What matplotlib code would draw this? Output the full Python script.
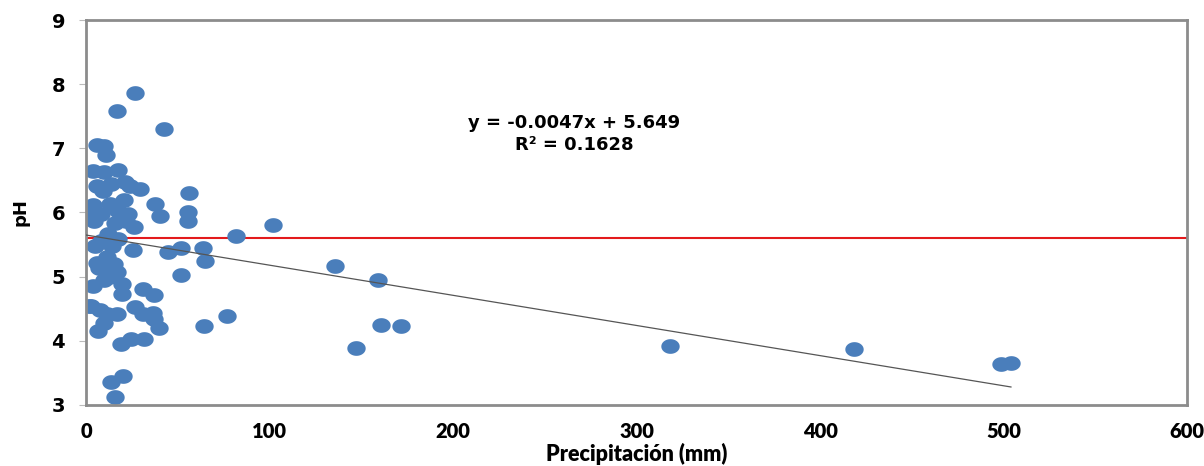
import numpy as np
import matplotlib.pyplot as plt
from matplotlib.path import Path

# precipitation (mm) and pH
precip = [26.7, 16.9, 42.5, 6.0, 9.8, 10.9, 3.8, 9.8, 17.4, 21.3,
          29.4, 56.1, 6.0, 9.3, 13.6, 24.0, 37.6, 3.8, 13.1, 20.7,
          40.3, 55.6, 55.6, 3.3, 8.2, 17.4, 22.9, 4.4, 15.8, 21.8,
          26.2, 101.9, 81.7, 12.0, 17.4, 8.2, 4.9, 25.6, 51.8, 44.7,
          63.8, 64.9, 135.7, 159.1, 51.8, 11.4, 15.3, 7.1, 11.4, 16.9,
          9.8, 3.8, 19.6, 19.6, 31.1, 37.1, 2.7, 7.6, 11.4, 16.9,
          9.8, 6.5, 26.7, 31.1, 36.5, 37.1, 39.8, 64.3, 76.8, 160.8,
          171.7, 147.1, 19.1, 24.5, 31.6, 318.3, 418.5, 498.6, 504.0, 20.2,
          13.6, 15.8, 6.0, 14.2, 1.5, 12.5]
ph = [7.86, 7.58, 7.30, 7.05, 7.03, 6.89, 6.64, 6.63, 6.67, 6.47,
      6.36, 6.31, 6.42, 6.34, 6.45, 6.42, 6.14, 6.11, 6.14, 6.19,
      5.95, 6.00, 5.86, 5.98, 5.97, 6.03, 5.98, 5.87, 5.84, 5.86,
      5.77, 5.81, 5.64, 5.67, 5.59, 5.55, 5.47, 5.42, 5.44, 5.38,
      5.44, 5.25, 5.17, 4.95, 5.02, 5.30, 5.19, 5.13, 5.08, 5.08,
      4.94, 4.86, 4.89, 4.73, 4.80, 4.72, 4.55, 4.48, 4.41, 4.41,
      4.27, 4.16, 4.53, 4.42, 4.44, 4.34, 4.20, 4.23, 4.38, 4.25,
      4.23, 3.89, 3.95, 4.03, 4.03, 3.92, 3.87, 3.64, 3.66, 3.45,
      3.36, 3.13, 5.22, 5.47, 4.55, 5.00]

slope, intercept = -0.0047, 5.649
limit_ph = 5.6

fig = plt.figure(figsize=(12.04, 4.66), dpi=100)
ax = fig.add_axes([0.0714, 0.131, 0.9146, 0.826])

t = np.linspace(0, 2 * np.pi, 60)
ellipse = Path(np.column_stack([np.cos(t), 0.8 * np.sin(t)]))

ax.axhline(limit_ph, color='#e31a1c', lw=1.5, zorder=1)
xl = np.array([0, max(precip)])
ax.plot(xl, slope * xl + intercept, color='#555555', lw=0.9, zorder=3)
ax.scatter(precip, ph, s=175, marker=ellipse, color='#4a7ebb', linewidths=0, zorder=2)

ax.set_xlim(0, 600)
ax.set_ylim(3, 9)
ax.set_xticks(range(0, 601, 100))
ax.set_yticks(range(3, 10))

for s in ax.spines.values():
    s.set_color('#8c8c8c')
    s.set_linewidth(2)

ax.tick_params(axis='y', length=5, color='#bbbbbb', pad=10)
ax.tick_params(axis='x', length=0, pad=12)
for lab in ax.get_yticklabels():
    lab.set_fontweight('bold')
    lab.set_fontsize(14)
for lab in ax.get_xticklabels():
    lab.set_family(['Lato', 'DejaVu Sans'])
    lab.set_fontweight('heavy')
    lab.set_fontsize(14.5)

ax.set_xlabel('Precipitación (mm)', fontsize=15.5, fontweight='heavy',
              family=['Lato', 'DejaVu Sans'], labelpad=2)
ax.set_ylabel('pH', fontsize=13, fontweight='bold', labelpad=16)

ax.text(266, 7.22, 'y = -0.0047x + 5.649\nR² = 0.1628', ha='center', va='center',
        fontsize=13, fontweight='bold', linespacing=1.25)

fig.savefig('out.png', dpi=100)
